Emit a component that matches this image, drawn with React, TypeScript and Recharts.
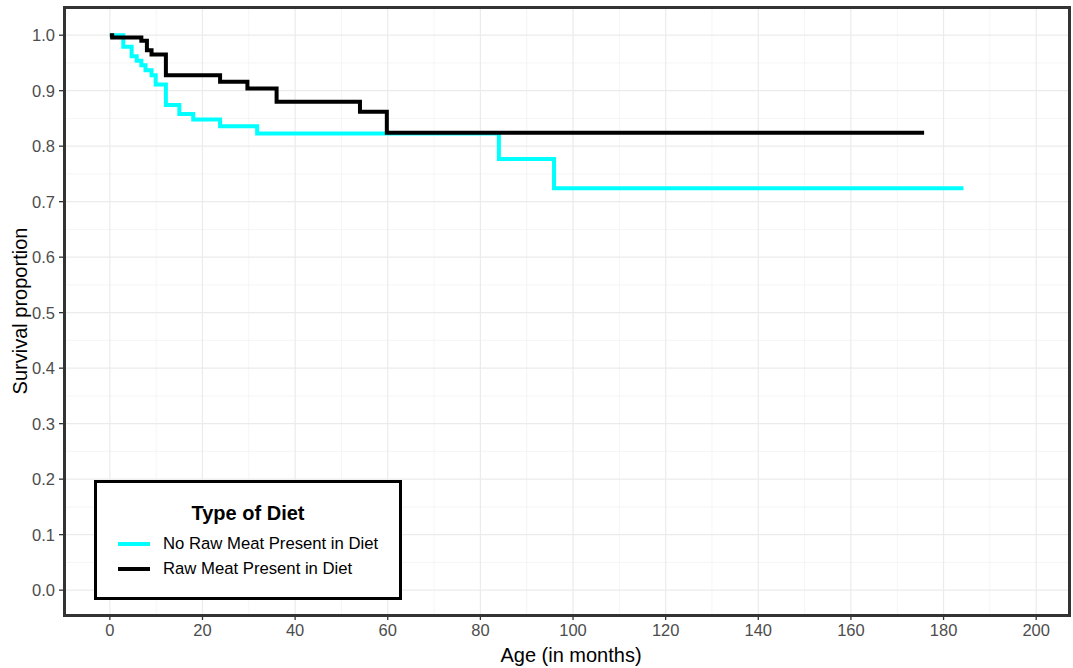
import { LineChart, Line, XAxis, YAxis, CartesianGrid } from "recharts"

// Kaplan-Meier step points (month, survival)
const noRawMonths = [0, 2.9, 4.7, 5.8, 6.8, 7.7, 9.0, 9.9, 12.1, 15.0, 18.0, 23.8, 31.8, 84.0, 95.9, 184.3]
const noRawSurvival = [1.0, 0.979, 0.962, 0.954, 0.946, 0.937, 0.928, 0.911, 0.874, 0.858, 0.848, 0.836, 0.823, 0.777, 0.724, 0.724]

const rawMonths = [0, 0.5, 6.8, 8.0, 9.0, 12.1, 23.8, 29.7, 36.0, 54.0, 59.8, 175.8]
const rawSurvival = [1.0, 0.996, 0.99, 0.973, 0.965, 0.928, 0.916, 0.904, 0.88, 0.862, 0.824, 0.824]

const seriesNames = ["No Raw Meat Present in Diet", "Raw Meat Present in Diet"]
const seriesColors = ["#00FFFF", "#000000"]

const xTicks = [0, 20, 40, 60, 80, 100, 120, 140, 160, 180, 200]
const xMinor = [10, 30, 50, 70, 90, 110, 130, 150, 170, 190]
const yTicks = [0, 0.1, 0.2, 0.3, 0.4, 0.5, 0.6, 0.7, 0.8, 0.9, 1.0]
const yMinor = [0.05, 0.15, 0.25, 0.35, 0.45, 0.55, 0.65, 0.75, 0.85, 0.95]

const noRawData = noRawMonths.map((t, i) => ({ t, s: noRawSurvival[i] }))
const rawData = rawMonths.map((t, i) => ({ t, s: rawSurvival[i] }))

function DietLegend() {
  return (
    <div
      style={{
        position: "absolute",
        left: 94,
        top: 480,
        width: 308,
        height: 120,
        boxSizing: "border-box",
        border: "3.3px solid #000",
        background: "#fff",
      }}
    >
      <div
        style={{
          position: "absolute",
          top: 18,
          left: 0,
          width: "100%",
          textAlign: "center",
          fontWeight: "bold",
          fontSize: 20,
          lineHeight: "24px",
          color: "#000",
        }}
      >
        Type of Diet
      </div>
      {seriesNames.map((name, i) => (
        <div
          key={name}
          style={{ position: "absolute", left: 21, top: 51 + i * 25, height: 20, display: "flex", alignItems: "center" }}
        >
          <div style={{ width: 32, height: 4, background: seriesColors[i] }} />
          <span style={{ marginLeft: 13, fontSize: 16.7, color: "#000", lineHeight: "20px" }}>{name}</span>
        </div>
      ))}
    </div>
  )
}

export default function App() {
  return (
    <div
      style={{
        position: "absolute",
        left: 0,
        top: 0,
        width: 1073,
        height: 668,
        background: "#fff",
        fontFamily: "'Liberation Sans', Arial, sans-serif",
      }}
    >
      <LineChart width={1073} height={668} margin={{ top: 8, right: 3, bottom: 0, left: 0 }}>
        <CartesianGrid stroke="#f3f3f3" strokeWidth={0.8} horizontalValues={yMinor} verticalValues={xMinor} />
        <CartesianGrid stroke="#ebebeb" strokeWidth={1.2} horizontalValues={yTicks} verticalValues={xTicks} />
        <XAxis
          dataKey="t"
          type="number"
          domain={[-9.9, 207.3]}
          allowDataOverflow
          ticks={xTicks}
          height={54}
          axisLine={false}
          tickLine={{ stroke: "#333", strokeWidth: 1.3 }}
          tickSize={6}
          tickMargin={4}
          tick={{ fill: "#4d4d4d", fontSize: 16.5 }}
        />
        <YAxis
          dataKey="s"
          type="number"
          domain={[-0.043, 1.049]}
          allowDataOverflow
          ticks={yTicks}
          width={64}
          axisLine={false}
          tickLine={{ stroke: "#333", strokeWidth: 1.3 }}
          tickSize={5}
          tickMargin={4}
          tickFormatter={(v: number) => v.toFixed(1)}
          tick={{ fill: "#4d4d4d", fontSize: 16.5 }}
        />
        <Line
          data={noRawData}
          dataKey="s"
          name={seriesNames[0]}
          type="stepAfter"
          stroke={seriesColors[0]}
          strokeWidth={4}
          dot={false}
          isAnimationActive={false}
        />
        <Line
          data={rawData}
          dataKey="s"
          name={seriesNames[1]}
          type="stepAfter"
          stroke={seriesColors[1]}
          strokeWidth={4}
          dot={false}
          isAnimationActive={false}
        />
      </LineChart>
      {/* panel border */}
      <div
        style={{
          position: "absolute",
          left: 63,
          top: 6,
          width: 1008,
          height: 611,
          boxSizing: "border-box",
          border: "3px solid #333",
          pointerEvents: "none",
        }}
      />
      <DietLegend />
      <div
        style={{
          position: "absolute",
          left: 20,
          top: 311,
          transform: "translate(-50%, -50%) rotate(-90deg)",
          whiteSpace: "nowrap",
          fontSize: 20,
          color: "#000",
        }}
      >
        Survival proportion
      </div>
      <div
        style={{
          position: "absolute",
          left: 571,
          top: 655,
          transform: "translate(-50%, -50%)",
          whiteSpace: "nowrap",
          fontSize: 20,
          color: "#000",
        }}
      >
        Age (in months)
      </div>
    </div>
  )
}
